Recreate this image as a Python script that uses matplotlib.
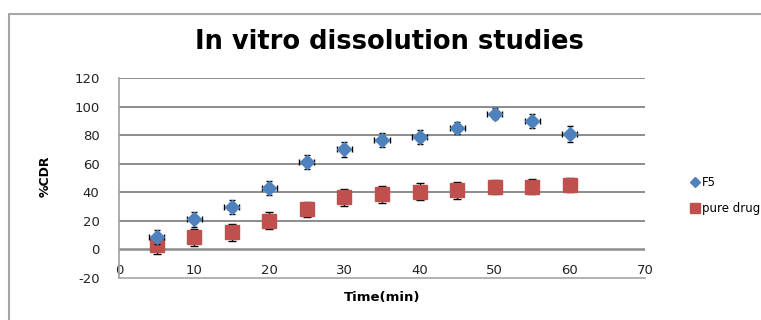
import matplotlib
matplotlib.use("Agg")
import matplotlib.pyplot as plt
from matplotlib.patches import Rectangle
from matplotlib.lines import Line2D

plt.rcParams["axes.unicode_minus"] = False

time_min = [5, 10, 15, 20, 25, 30, 35, 40, 45, 50, 55, 60]
f5_cdr = [8.5, 21, 29.5, 43, 61, 70, 76.5, 78.5, 85, 95, 90, 81]
f5_err = [5, 5, 5, 5, 5, 5, 5, 5, 4.5, 4, 5, 5.5]
f5_xerr = [1] * 12
pure_cdr = [3, 8.5, 12, 20, 28, 36.5, 38.5, 40.5, 41.5, 43.5, 44, 45]
pure_err = [6.5, 6, 6, 6, 5, 6, 6, 6, 6, 5, 5.5, 5]
yticks = [-20, 0, 20, 40, 60, 80, 100, 120]
xticks = [0, 10, 20, 30, 40, 50, 60, 70]

W, H = 761, 320
fig = plt.figure(figsize=(W / 100, H / 100), dpi=100)
fig.patch.set_facecolor("white")

# outer chart frame
fig.patches.append(Rectangle((9 / W, -0.1), 1.1, 1.1 - 14 / H, transform=fig.transFigure,
                             fill=False, edgecolor="#a6a6a6", linewidth=1.5, zorder=0))

ax = fig.add_axes([119 / W, 1 - 278 / H, (645 - 119) / W, (278 - 78) / H])
ax.set_xlim(0, 70)
ax.set_ylim(-20, 120)

for y in yticks[1:]:
    ax.axhline(y, color="#8c8c8c", linewidth=1.4 if y != 0 else 1.8, zorder=1)

for s in ["top", "right"]:
    ax.spines[s].set_visible(False)
ax.spines["left"].set_color("#a0a0a0")
ax.spines["bottom"].set_color("#a6a6a6")
ax.spines["left"].set_linewidth(1.2)
ax.spines["bottom"].set_linewidth(1.2)

# pure drug: squares over their error bars
ax.errorbar(time_min, pure_cdr, yerr=pure_err, fmt="none", ecolor="black",
            elinewidth=1.0, capsize=3, zorder=2.5)
ax.plot(time_min, pure_cdr, "s", color="#C0504D", markersize=10, zorder=3)
# F5: diamonds over their error bars
ax.errorbar(time_min, f5_cdr, yerr=f5_err, xerr=f5_xerr, fmt="none", ecolor="black",
            elinewidth=1.0, capsize=2.5, zorder=3.5)
ax.plot(time_min, f5_cdr, "D", color="#4F81BD", markersize=7.5, zorder=4)

ax.set_yticks(yticks)
ax.set_xticks(xticks)
ax.tick_params(axis="both", length=0, labelsize=9.5, labelcolor="#222222")
ax.tick_params(axis="y", pad=14)
ax.tick_params(axis="x", pad=-10)

fig.text(389 / W, 1 - 42 / H, "In vitro dissolution studies", ha="center", va="center",
         fontsize=18.5, fontweight="bold")
fig.text(45 / W, 1 - 176 / H, "%CDR", ha="center", va="center", rotation=90,
         fontsize=9, fontweight="bold")
fig.text(382 / W, 1 - 297 / H, "Time(min)", ha="center", va="center",
         fontsize=9.5, fontweight="bold")

handles = [Line2D([], [], marker="D", color="#4F81BD", linestyle="none", markersize=5.5),
           Line2D([], [], marker="s", color="#C0504D", linestyle="none", markersize=7.5)]
leg = fig.legend(handles, ["F5", "pure drug"], loc="upper left",
                 bbox_to_anchor=(684 / W, 1 - 170 / H), frameon=False, fontsize=8.5,
                 handlelength=0.8, handletextpad=0.2, labelspacing=1.1, borderpad=0)

fig.savefig("out.png", dpi=100)
